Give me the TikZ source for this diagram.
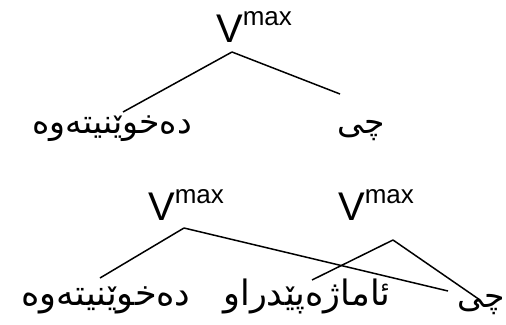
\documentclass[tikz,border=0pt]{standalone}
\usepackage{fontspec}
\setmainfont{Liberation Sans}
\newfontfamily\arabicfont[Script=Arabic]{DejaVu Sans}
\TeXXeTstate=1

\begin{document}
\begin{tikzpicture}
      [%%%%%%%%%%%%%%%%%%%%%%%%%%%%%%
      x=1pt,y=-1pt,
      cat/.style={inner sep=0pt,anchor=base,font=\fontsize{40}{40}\selectfont},
      word/.style={inner sep=0pt,anchor=base,font=\arabicfont\fontsize{33}{40}\selectfont},
      bigword/.style={word,font=\arabicfont\fontsize{35}{42}\selectfont},
      branch/.style={line width=1.5pt},
      ]%%%%%%%%%%%%%%%%%%%%%%%%%%%%%%

      \useasboundingbox (0,0) rectangle (506,324);

      % top tree
      \node[cat] (vtop) at (254,42){V\raisebox{17pt}{\fontsize{26}{26}\selectfont max}};
      \node[word] (readtop) at (112,133){\beginR دەخوێنیتەوە\endR};
      \node[word] (whattop) at (361,133){\beginR چی\endR};

      \coordinate (roottop) at (232,52);
      \coordinate (readtopend) at (123,112);
      \coordinate (whattopend) at (340,94);

      \draw[branch] (roottop) -- (readtopend);
      \draw[branch] (roottop) -- (whattopend);

      % bottom trees
      \node[cat] (vleft) at (186,220){V\raisebox{17pt}{\fontsize{26}{26}\selectfont max}};
      \node[cat] (vright) at (376,220){V\raisebox{17pt}{\fontsize{26}{26}\selectfont max}};
      \node[bigword] (readbot) at (106,305){\beginR دەخوێنیتەوە\endR};
      \node[bigword] (refbot) at (307,305){\beginR ئاماژەپێدراو\endR};
      \node[word] (whatbot) at (481,307){\beginR چی\endR};

      \coordinate (rootleft) at (184,228);
      \coordinate (rootright) at (393,240);
      \coordinate (readbotend) at (100,278);
      \coordinate (longend) at (448,291);
      \coordinate (refbotend) at (312,280);
      \coordinate (whatbotend) at (480,300);

      \draw[branch] (rootleft) -- (readbotend);
      \draw[branch] (rootleft) -- (longend);
      \draw[branch] (rootright) -- (refbotend);
      \draw[branch] (rootright) -- (whatbotend);
\end{tikzpicture}
\end{document}
